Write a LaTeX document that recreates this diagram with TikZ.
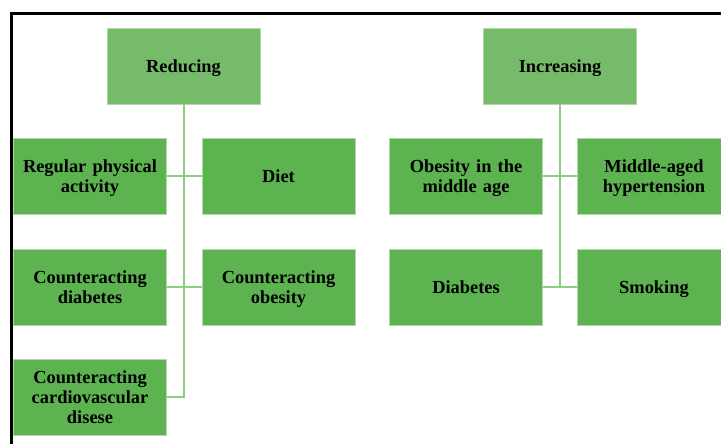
\documentclass[tikz,border=0pt]{standalone}
\usepackage{fontspec}
\setmainfont{Liberation Serif}
\definecolor{headgreen}{RGB}{118,187,106}
\definecolor{kidgreen}{RGB}{92,179,80}
\definecolor{linkgreen}{RGB}{140,205,130}
\definecolor{edgegreen}{RGB}{175,218,165}
\tikzset{
  box/.style={rectangle, draw=edgegreen, line width=0.5pt, minimum width=115pt, minimum height=57pt, inner sep=0pt, align=center, text width=110pt, text height=9.2pt, text depth=0pt, font=\fontsize{13.8}{15}\selectfont\bfseries},
  twolines/.style={text depth=15pt},
  threelines/.style={text depth=30pt},
  headbox/.style={box, fill=headgreen},
  kidbox/.style={box, fill=kidgreen},
  link/.style={draw=linkgreen, line width=1.5pt},
  frameline/.style={draw=black, line width=1.6pt}
}
\begin{document}
\begin{tikzpicture}[x=0.75pt, y=-0.75pt]
\useasboundingbox (0,0) rectangle (721,443);
\clip (0,0) rectangle (721,443);
% frame
\coordinate (ftl) at (11.5,13.5);
\coordinate (ftr) at (722,13.5);
\coordinate (fbl) at (11.5,444);
\draw[frameline] (ftr) -- (ftl) -- (fbl);
% left tree
\node[headbox] (red) at (183.5,66) {Reducing};
\node[kidbox, twolines] (rpa) at (90,176) {Regular physical\\activity};
\node[kidbox] (diet) at (278.5,176) {Diet};
\node[kidbox, twolines] (cdi) at (90,287) {Counteracting\\diabetes};
\node[kidbox, twolines] (cob) at (278.5,287) {Counteracting\\obesity};
\node[kidbox, threelines] (ccd) at (90,397) {Counteracting\\cardiovascular\\disese};
% right tree
\node[headbox] (inc) at (560,66) {Increasing};
\node[kidbox, twolines] (omi) at (466,176) {Obesity in the\\middle age};
\node[kidbox, twolines] (mah) at (654,176) {Middle-aged\\hypertension};
\node[kidbox] (dia) at (466,287) {Diabetes};
\node[kidbox] (smo) at (654,287) {Smoking};
% connectors
\draw[link] (red.south) -- (red.south |- ccd.east) -- (ccd.east);
\draw[link] (rpa.east) -- (diet.west);
\draw[link] (cdi.east) -- (cob.west);
\draw[link] (inc.south) -- (inc.south |- dia.east);
\draw[link] (omi.east) -- (mah.west);
\draw[link] (dia.east) -- (smo.west);
\end{tikzpicture}
\end{document}
